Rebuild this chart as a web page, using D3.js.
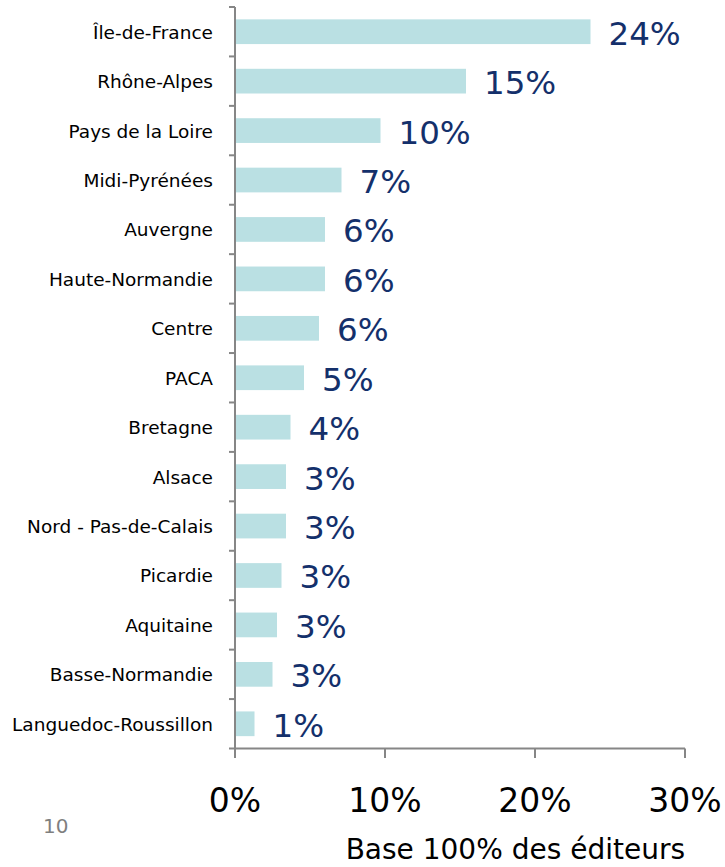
<!DOCTYPE html>
<html>
<head>
<meta charset="utf-8">
<script src="https://cdn.jsdelivr.net/npm/d3@7"></script>
<style>
  body { margin: 0; background: #fff; }
  text { font-family: "DejaVu Sans", Verdana, sans-serif; }
</style>
</head>
<body>
<div id="chart"></div>
<script>
var regions = ["Île-de-France", "Rhône-Alpes", "Pays de la Loire", "Midi-Pyrénées",
               "Auvergne", "Haute-Normandie", "Centre", "PACA", "Bretagne", "Alsace",
               "Nord - Pas-de-Calais", "Picardie", "Aquitaine", "Basse-Normandie",
               "Languedoc-Roussillon"];
var shares = [23.7, 15.4, 9.7, 7.1, 6.0, 6.0, 5.6, 4.6, 3.7, 3.4, 3.4, 3.1, 2.8, 2.5, 1.3];
var shareLabels = ["24%", "15%", "10%", "7%", "6%", "6%", "6%", "5%", "4%", "3%",
                   "3%", "3%", "3%", "3%", "1%"];
var xTicks = [0, 10, 20, 30];

var w = 725,
    h = 867;

var svg = d3.select("#chart")
            .append("svg")
            .attr("width", w)
            .attr("height", h);

var x = d3.scaleLinear().domain([0, 30]).range([235, 685]);
var y = d3.scaleBand().domain(regions).range([7, 748.5]).paddingInner(0.5).paddingOuter(0.25);

// bars
svg.selectAll("rect.bar")
   .data(regions)
   .enter()
   .append("rect")
   .attr("class", "bar")
   .attr("x", x(0))
   .attr("y", function(d) { return y(d); })
   .attr("width", function(d, i) { return x(shares[i]) - x(0); })
   .attr("height", y.bandwidth())
   .style("fill", "#bae0e3");

// value labels
svg.selectAll("text.val")
   .data(regions)
   .enter()
   .append("text")
   .attr("class", "val")
   .attr("x", function(d, i) { return x(shares[i]) + 18; })
   .attr("y", function(d) { return y(d) + y.bandwidth() / 2 + 13; })
   .style("font-size", "32.5px")
   .style("fill", "#14306b")
   .text(function(d, i) { return shareLabels[i]; });

// category labels
svg.selectAll("text.cat")
   .data(regions)
   .enter()
   .append("text")
   .attr("class", "cat")
   .attr("x", 213)
   .attr("y", function(d) { return y(d) + y.bandwidth() / 2 + 7; })
   .attr("text-anchor", "end")
   .style("font-size", "18.5px")
   .style("fill", "#000")
   .text(function(d) { return d; });

// y axis line + ticks between categories
var yEdges = [7];
regions.forEach(function(d) { yEdges.push(y(d) + y.bandwidth() + y.step() * 0.25); });

svg.append("line")
   .attr("x1", x(0)).attr("x2", x(0))
   .attr("y1", 7).attr("y2", 748.5)
   .style("stroke", "#868686").style("stroke-width", 2);

svg.selectAll("line.ytick")
   .data(yEdges)
   .enter()
   .append("line")
   .attr("class", "ytick")
   .attr("x1", x(0) - 6).attr("x2", x(0))
   .attr("y1", function(d) { return d; })
   .attr("y2", function(d) { return d; })
   .style("stroke", "#868686").style("stroke-width", 2);

// x axis
svg.append("line")
   .attr("x1", x(0)).attr("x2", x(30))
   .attr("y1", 748.5).attr("y2", 748.5)
   .style("stroke", "#868686").style("stroke-width", 2);

svg.selectAll("line.xtick")
   .data(xTicks)
   .enter()
   .append("line")
   .attr("class", "xtick")
   .attr("x1", function(d) { return x(d); })
   .attr("x2", function(d) { return x(d); })
   .attr("y1", 748.5).attr("y2", 758)
   .style("stroke", "#868686").style("stroke-width", 2);

svg.selectAll("text.xlab")
   .data(xTicks)
   .enter()
   .append("text")
   .attr("class", "xlab")
   .attr("x", function(d) { return x(d); })
   .attr("y", 812)
   .attr("text-anchor", "middle")
   .style("font-size", "33px")
   .style("fill", "#000")
   .text(function(d) { return d + "%"; });

svg.append("text")
   .attr("x", 685)
   .attr("y", 859)
   .attr("text-anchor", "end")
   .style("font-size", "28px")
   .style("fill", "#000")
   .text("Base 100% des éditeurs");

// page number
svg.append("text")
   .attr("x", 43)
   .attr("y", 833)
   .style("font-size", "20px")
   .style("fill", "#7f7f7f")
   .text("10");
</script>
</body>
</html>
